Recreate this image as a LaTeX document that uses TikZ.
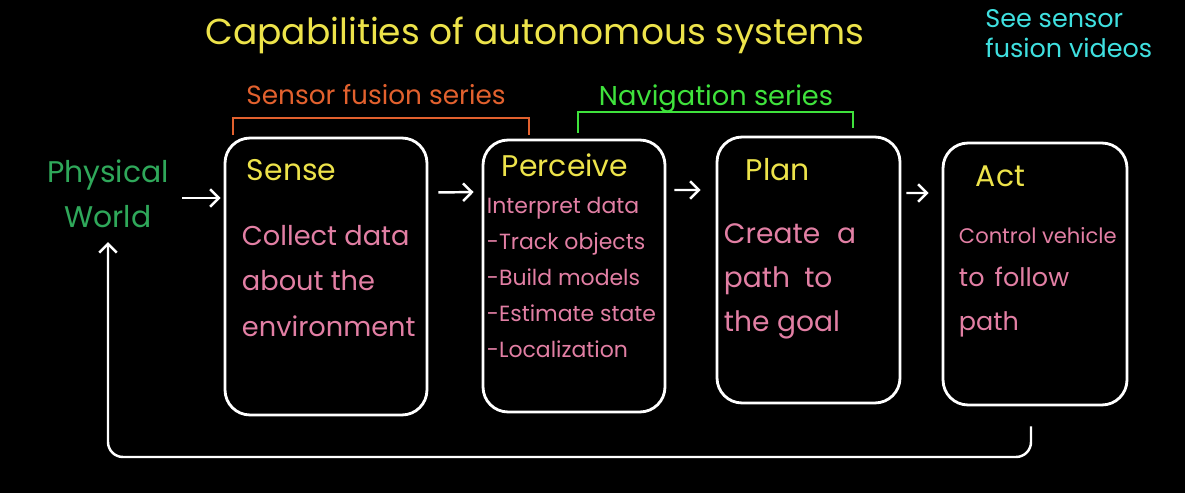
\documentclass[tikz,border=0pt]{standalone}
\usepackage{fontspec}
\setmainfont{Poppins}
\usetikzlibrary{arrows.meta}
\usetikzlibrary{positioning}

\definecolor{chalkyellow}{HTML}{EDE34A}
\definecolor{chalkpink}{HTML}{E27FA4}
\definecolor{chalkgreen}{HTML}{2FA85A}
\definecolor{chalkorange}{HTML}{E2612E}
\definecolor{chalklime}{HTML}{3FE23C}
\definecolor{chalkcyan}{HTML}{3FE0E0}

\tikzset{
  block/.style={draw=white, line width=1.6pt, rounded corners=0.5cm},
  heading/.style={text=chalkyellow, font=\fontsize{17}{20}\selectfont, anchor=base west, inner sep=0pt},
  body/.style={text=chalkpink, align=left, anchor=north west, inner sep=0pt},
  flow/.style={draw=white, line width=1.4pt, -{Straight Barb[length=5pt,width=10pt]}},
  bracket/.style={line width=1.2pt}
}

\begin{document}
\begin{tikzpicture}[x=0.02cm,y=-0.02cm]
\fill[black] (0,0) rectangle (1185,493);
\useasboundingbox (0,0) rectangle (1185,493);
\node[text=chalkyellow, font=\fontsize{20.5}{24}\selectfont, anchor=base] (title) at (535,45) {Capabilities of autonomous systems};
\node[text=chalkcyan, align=left, anchor=north west, inner sep=0pt, font=\fontsize{14.5}{17}\selectfont] (seevid) at (985,9) {See sensor\\fusion videos};
\node[text=chalkorange, font=\fontsize{15}{18}\selectfont, anchor=base] (sfs) at (376,105) {Sensor fusion series};
\node[text=chalklime, font=\fontsize{15.5}{18}\selectfont, anchor=base] (navs) at (716,106) {Navigation series};
\draw[chalkorange, bracket] (233,135) |- (529,118) -- (529,135);
\draw[chalklime, bracket] (578,133) |- (853,112) -- (853,128);
\node[text=chalkgreen, align=center, font=\fontsize{17}{25.5}\selectfont] (world) at (108,194) {Physical\\World};
% the four stages
\node[block, minimum width=4.04cm, minimum height=5.54cm] (sense) at (326,276.5) {};
\node[block, minimum width=3.64cm, minimum height=5.44cm] (perceive) at (574,276) {};
\node[block, minimum width=3.66cm, minimum height=5.32cm] (plan) at (808.5,270) {};
\node[block, minimum width=3.68cm, minimum height=5.24cm] (act) at (1035,274) {};
\node[heading] (senseh) at ([shift={(23,44)}]sense.north west) {Sense};
\node[heading] (perceiveh) at ([shift={(20,38)}]perceive.north west) {Perceive};
\node[heading] (planh) at ([shift={(30,45)}]plan.north west) {Plan};
\node[heading] (acth) at ([shift={(34,45)}]act.north west) {Act};
\node[body, font=\fontsize{15.5}{26}\selectfont] (sensetxt) at ([shift={(18,88)}]sense.north west) {Collect data\\about the\\environment};
\node[body, font=\fontsize{12.5}{20.5}\selectfont] (perceivetxt) at ([shift={(5,58)}]perceive.north west) {Interpret data\\-Track objects\\-Build models\\-Estimate state\\-Localization};
\node[body, font=\fontsize{16}{25}\selectfont] (plantxt) at ([shift={(8,88)}]plan.north west) {Create\hspace{0.6em}a\\path\hspace{0.5em}to\\the goal};
\node[body, font=\fontsize{12}{25}\selectfont] (acttxt) at ([shift={(17,85)}]act.north west) {Control vehicle\\{\fontsize{14.5}{25}\selectfont to\hspace{0.4em}follow}\\{\fontsize{14.5}{25}\selectfont path}};
% arrows
\draw[flow, shorten <=0.14cm, shorten >=0.06cm] (world.east |- 0,198) -- (sense.west |- 0,198);
\draw[flow, shorten <=0.2cm, shorten >=0.16cm] ([yshift=1.68cm]sense.east) -- ([yshift=1.68cm]perceive.west);
\draw[flow, shorten <=0.16cm, shorten >=0.3cm] ([yshift=1.72cm]perceive.east) -- ([yshift=1.6cm]plan.west);
\draw[flow, shorten <=0.1cm, shorten >=0.26cm] ([yshift=1.54cm]plan.east) -- ([yshift=1.62cm]act.west);
\coordinate (fbstart) at ([shift={(-4,20)}]act.south);
\coordinate (fbcorner) at (108,457);
\draw[flow, rounded corners=0.3cm, shorten >=0.16cm] (fbstart) |- (fbcorner) -- (fbcorner |- world.south);
\end{tikzpicture}
\end{document}
